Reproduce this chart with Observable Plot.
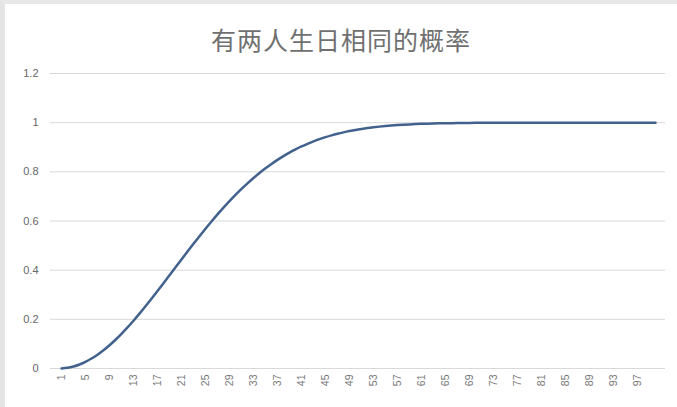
<!DOCTYPE html>
<html><head><meta charset="utf-8">
<script src="https://cdn.jsdelivr.net/npm/d3@7"></script>
<script src="https://cdn.jsdelivr.net/npm/@observablehq/plot@0.6"></script>
<style>
body{margin:0;background:#fff;}
#wrap{width:672px;height:403px;border-left:5px solid #e4e4e4;border-top:4px solid #e8e8e8;position:relative;font-family:"Noto Sans CJK SC","Noto Sans",sans-serif;}
#title{position:absolute;left:0;width:672px;top:17px;text-align:center;font-size:25px;color:#707070;letter-spacing:1px;}
#chart{position:absolute;left:0;top:56px;}
</style></head>
<body><div id="wrap"><div id="title">有两人生日相同的概率</div><div id="chart"></div></div>
<script>
const people = d3.range(1, 101);
const probability = [
0,0.0027,0.0082,0.0164,0.0271,0.0405,0.0562,0.0743,0.0946,0.1169,
0.1411,0.1670,0.1944,0.2231,0.2529,0.2836,0.3150,0.3469,0.3791,0.4114,
0.4437,0.4757,0.5073,0.5383,0.5687,0.5982,0.6269,0.6545,0.6810,0.7063,
0.7305,0.7533,0.7750,0.7953,0.8144,0.8322,0.8487,0.8641,0.8782,0.8912,
0.9032,0.9140,0.9239,0.9329,0.9410,0.9483,0.9548,0.9606,0.9658,0.9704,
0.9744,0.9780,0.9811,0.9839,0.9863,0.9883,0.9901,0.9917,0.9930,0.9941,
0.9951,0.9959,0.9966,0.9972,0.9977,0.9981,0.9984,0.9987,0.9990,0.9992,
0.9993,0.9995,0.9996,0.9997,0.9997,0.9998,0.9998,0.9999,0.9999,0.9999,
1,1,1,1,1,1,1,1,1,1,
1,1,1,1,1,1,1,1,1,1];
const xTicks = [1,5,9,13,17,21,25,29,33,37,41,45,49,53,57,61,65,69,73,77,81,85,89,93,97];
const yTicks = [0,0.2,0.4,0.6,0.8,1,1.2];
const data = people.map((n,i)=>({n, p: probability[i]}));
const chart = Plot.plot({
  width: 672, height: 345,
  marginLeft: 45, marginRight: 12, marginTop: 13, marginBottom: 37,
  style: {fontFamily: "'Liberation Sans', Arial, sans-serif", color: "#6e6e6e", background: "transparent"},
  x: {type: "point", domain: people, padding: 0.5, label: null},
  y: {domain: [0, 1.2], label: null},
  marks: [
    Plot.gridY(yTicks, {stroke: "#d9d9d9", strokeOpacity: 1, strokeWidth: 1}),
    Plot.axisX({ticks: xTicks, tickSize: 0, tickRotate: -90, tickPadding: 6, fontSize: 10.5, label: null, fill: "#777"}),
    Plot.axisY({ticks: yTicks, tickSize: 0, tickPadding: 12, fontSize: 11, label: null, fill: "#666", tickFormat: d => String(+d.toFixed(1))}),
    Plot.line(data, {x: "n", y: "p", stroke: "#42618d", strokeWidth: 2.5, curve: "monotone-x"})
  ]
});
document.getElementById("chart").appendChild(chart);
</script></body></html>
